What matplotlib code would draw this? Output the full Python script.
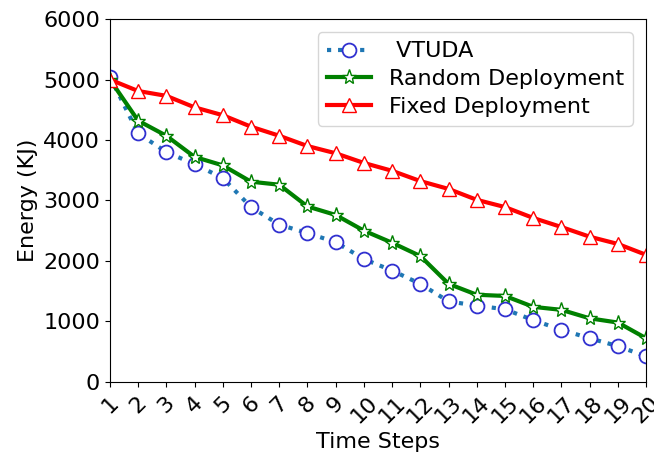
import numpy as np
import matplotlib
matplotlib.use('Agg')
import matplotlib.pyplot as plt

# Energy (KJ) per time step
steps = list(range(1, 21))
vtuda = [5050, 4110, 3800, 3600, 3370, 2890, 2600, 2460, 2310, 2030,
         1840, 1620, 1330, 1260, 1200, 1020, 860, 720, 590, 420]
random_dep = [5000, 4320, 4070, 3720, 3580, 3310, 3260, 2900, 2760, 2500,
              2300, 2080, 1620, 1440, 1420, 1240, 1190, 1050, 980, 720]
fixed_dep = [5000, 4810, 4730, 4540, 4410, 4220, 4070, 3900, 3780, 3620,
             3490, 3320, 3190, 3010, 2890, 2710, 2560, 2400, 2280, 2100]

fig = plt.figure(figsize=(6.54, 4.54), dpi=100)
ax = fig.add_axes([0.168, 0.159, 0.820, 0.799])

ax.plot(steps, vtuda, linestyle=':', color='#1f77b4', linewidth=3,
        marker='o', markersize=10, markerfacecolor='white',
        markeredgecolor='#3030d0', markeredgewidth=1.3, label=' VTUDA')
ax.plot(steps, random_dep, linestyle='-', color='green', linewidth=3,
        marker='*', markersize=11, markerfacecolor='white',
        markeredgecolor='green', markeredgewidth=1.0, label='Random Deployment')
ax.plot(steps, fixed_dep, linestyle='-', color='red', linewidth=3,
        marker='^', markersize=10, markerfacecolor='white',
        markeredgecolor='red', markeredgewidth=1.0, label='Fixed Deployment')

ax.set_xlim(1, 20)
ax.set_ylim(0, 6000)
ax.set_xticks(steps)
ax.set_xticklabels([str(s) for s in steps], rotation=45, fontsize=16)
ax.set_yticks(range(0, 6001, 1000))
ax.tick_params(axis='y', labelsize=16)
ax.tick_params(axis='x', pad=4)
ax.set_xlabel('Time Steps', fontsize=16, labelpad=4)
ax.set_ylabel('Energy (KJ)', fontsize=16)
ax.legend(loc='upper right', fontsize=16, handlelength=2.0,
          borderaxespad=0.6, labelspacing=0.35)

plt.savefig('out.png', dpi=100)
